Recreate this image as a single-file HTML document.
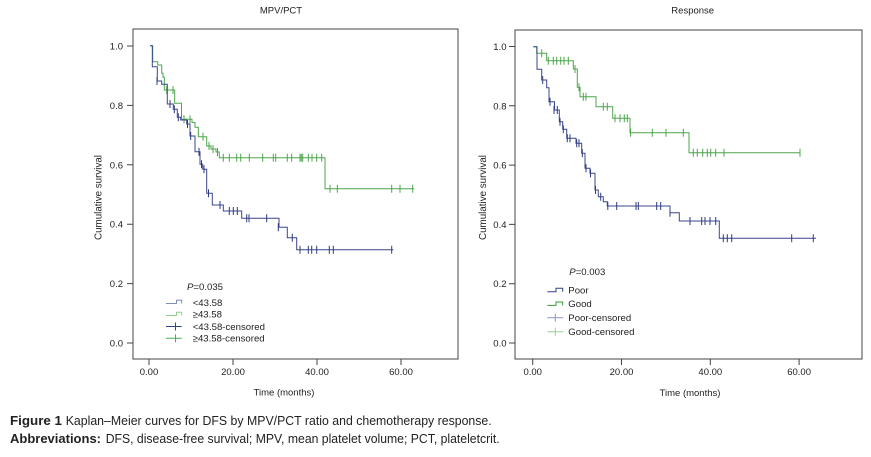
<!DOCTYPE html>
<html>
<head>
<meta charset="utf-8">
<style>
html,body{margin:0;padding:0;background:#fff;}
svg{display:block;}
text{font-family:"Liberation Sans",Arial,sans-serif;fill:#222;}
</style>
</head>
<body>
<svg width="871" height="457" viewBox="0 0 871 457" xmlns="http://www.w3.org/2000/svg">
<rect x="0" y="0" width="871" height="457" fill="#fff"/>

<!-- ============ LEFT CHART ============ -->
<text x="281" y="13.5" font-size="9.5" text-anchor="middle">MPV/PCT</text>
<rect x="133" y="29" width="325" height="330" fill="none" stroke="#444" stroke-width="1"/>
<path d="M127,46H133M127,105.4H133M127,164.8H133M127,224.2H133M127,283.6H133M127,343H133" stroke="#444" stroke-width="1"/>
<g font-size="9.5" text-anchor="end">
<text x="123" y="49.5">1.0</text>
<text x="123" y="108.9">0.8</text>
<text x="123" y="168.3">0.6</text>
<text x="123" y="227.7">0.4</text>
<text x="123" y="287.1">0.2</text>
<text x="123" y="346.5">0.0</text>
</g>
<path d="M149,359V365M233,359V365M317,359V365M401,359V365" stroke="#444" stroke-width="1"/>
<g font-size="9.5" text-anchor="middle">
<text x="149" y="375">0.00</text>
<text x="233" y="375">20.00</text>
<text x="317" y="375">40.00</text>
<text x="401" y="375">60.00</text>
</g>
<text x="284" y="395.5" font-size="9.5" text-anchor="middle">Time (months)</text>
<text transform="translate(101.5,197.5) rotate(-90)" font-size="9.8" text-anchor="middle">Cumulative survival</text>

<!-- green curve left -->
<path d="M150,45.7H152.7V61.7H157.7V65H161.7V73.3H163V77.3H164.3V90H174.7V103.3H181.5V119.3H192V122.5H195V127.3H198.3V136.7H206.7V146H211V149H216V152H219.3V157.7H325V188.7H414" fill="none" stroke="#4ca64c" stroke-width="1"/>
<path d="M166.7,86v8M173,86v8M184,115.3v8M190,115.3v8M203,132.7v8M209,142v8M213,145v8M217.5,148v8M223.3,153.7v8M229.3,153.7v8M236.7,153.7v8M240.7,153.7v8M249.3,153.7v8M262.7,153.7v8M273.3,153.7v8M275.7,153.7v8M287.3,153.7v8M291.7,153.7v8M300,153.7v8M301.3,153.7v8M302.7,153.7v8M308.3,153.7v8M312,153.7v8M316.7,153.7v8M321.7,153.7v8M330,184.7v8M337.3,184.7v8M391.7,184.7v8M400,184.7v8M412.7,184.7v8" stroke="#4ca64c" stroke-width="1"/>

<!-- blue curve left -->
<path d="M150,45.7H152.3V66.7H157.3V81H161.7V84.3H167.3V104H173.3V109.3H177.3V117.3H180.7V120H186.7V124H190V136H195V151.7H200V164.3H202.7V169.3H206.7V193.3H212.3V205H223.3V211H241.7V218.3H279V227.3H287.3V237.7H296.7V249.8H393.3" fill="none" stroke="#3a478c" stroke-width="1"/>
<path d="M157,77v8M170,100v8M174.3,105.3v8M178.3,113.3v8M187.5,120v8M190.7,132v8M199,147.7v8M201.5,160.3v8M204,165.3v8M208.5,189.3v8M220,201v8M229.3,207v8M233.3,207v8M237.3,207v8M246.7,214.3v8M249,214.3v8M266.7,214.3v8M278.3,223.3v8M292.3,233.7v8M300,245.8v8M308.3,245.8v8M311.7,245.8v8M316.7,245.8v8M329.3,245.8v8M333.3,245.8v8M391.7,245.8v8" stroke="#2e3b7e" stroke-width="1"/>

<!-- legend left -->
<text x="187" y="290" font-size="9.6"><tspan font-style="italic">P</tspan>=0.035</text>
<path d="M166,303.5H176.5V300.3H181.7V303.5" fill="none" stroke="#7f8db8" stroke-width="1"/>
<path d="M166,315.5H176.5V312.3H181.7V315.5" fill="none" stroke="#8fd08f" stroke-width="1"/>
<path d="M166,326.5H181.7M175.5,322.5V330.5" fill="none" stroke="#34408a" stroke-width="1"/>
<path d="M166,338.2H181.7M175.5,334.2V342.2" fill="none" stroke="#4caf50" stroke-width="1"/>
<g font-size="9.6">
<text x="192.7" y="306">&lt;43.58</text>
<text x="192.7" y="317.5">≥43.58</text>
<text x="192.7" y="330">&lt;43.58-censored</text>
<text x="192.7" y="341.7">≥43.58-censored</text>
</g>

<!-- ============ RIGHT CHART ============ -->
<text x="692.7" y="13.5" font-size="9.5" text-anchor="middle">Response</text>
<rect x="515" y="30" width="347" height="329" fill="none" stroke="#444" stroke-width="1"/>
<path d="M509,46.5H515M509,105.8H515M509,165.1H515M509,224.4H515M509,283.7H515M509,343H515" stroke="#444" stroke-width="1"/>
<g font-size="9.5" text-anchor="end">
<text x="506.5" y="50">1.0</text>
<text x="506.5" y="109.3">0.8</text>
<text x="506.5" y="168.6">0.6</text>
<text x="506.5" y="227.9">0.4</text>
<text x="506.5" y="287.2">0.2</text>
<text x="506.5" y="346.5">0.0</text>
</g>
<path d="M532.7,359V365M621.5,359V365M710.3,359V365M799.1,359V365" stroke="#444" stroke-width="1"/>
<g font-size="9.5" text-anchor="middle">
<text x="532.7" y="375">0.00</text>
<text x="621.5" y="375">20.00</text>
<text x="710.3" y="375">40.00</text>
<text x="799.1" y="375">60.00</text>
</g>
<text x="690" y="396" font-size="9.5" text-anchor="middle">Time (months)</text>
<text transform="translate(486,197.5) rotate(-90)" font-size="9.8" text-anchor="middle">Cumulative survival</text>

<!-- green curve right -->
<path d="M533.3,46.7H536.7V53.3H546.7V60.7H573.3V69H577.3V87.3H580V96.7H596V106.7H612.7V118.3H630V132.7H689V152.7H800" fill="none" stroke="#4ca64c" stroke-width="1"/>
<path d="M541.7,49.3v8M548.3,56.7v8M553.3,56.7v8M556.7,56.7v8M560.7,56.7v8M564,56.7v8M568.3,56.7v8M575,65v8M579,83.3v8M583.3,92.7v8M586,92.7v8M603.3,102.7v8M607.3,102.7v8M615,114.3v8M620,114.3v8M624.3,114.3v8M627.3,114.3v8M630.5,128.7v8M652.3,128.7v8M666,128.7v8M683.3,128.7v8M693.3,148.7v8M697.3,148.7v8M702.7,148.7v8M707.3,148.7v8M710.7,148.7v8M715.7,148.7v8M724,148.7v8M800,148.7v8" stroke="#4ca64c" stroke-width="1"/>

<!-- blue curve right -->
<path d="M533.3,46.7H537V69.3H541.7V80H546.7V87.7H549V101.7H554.5V110H559.3V121.7H562.7V129.3H566.7V138.3H576V143.3H581.7V153.3H585V168.3H590V173.3H595V190H598.3V196.7H603.3V201.7H607.3V206H670V212.7H679.3V221H719.3V238.3H816" fill="none" stroke="#3a478c" stroke-width="1"/>
<path d="M542.7,76v8M550,97.7v8M554,106v8M557.3,106v8M560,117.7v8M563.3,125.3v8M567.3,134.3v8M570,134.3v8M576.7,139.3v8M579,139.3v8M582.3,149.3v8M586,164.3v8M590.5,169.3v8M595.5,186v8M600.7,192.7v8M607.8,202v8M616.7,202v8M636,202v8M638.3,202v8M656.7,202v8M660.7,202v8M670,208.7v8M690,217v8M701.7,217v8M705,217v8M710,217v8M715.7,217v8M723.3,234.3v8M727.3,234.3v8M731.7,234.3v8M791.7,234.3v8M813.3,234.3v8" stroke="#2e3b7e" stroke-width="1"/>

<!-- legend right -->
<text x="569.3" y="275" font-size="9.6"><tspan font-style="italic">P</tspan>=0.003</text>
<path d="M547.3,291.7H556V288.3H562.7V291.7" fill="none" stroke="#34408a" stroke-width="1"/>
<path d="M547.3,305.4H556V302H562.7V305.4" fill="none" stroke="#3a9a3a" stroke-width="1"/>
<path d="M547.3,317.7H563.3M555.3,313.7V321.7" fill="none" stroke="#8a96c8" stroke-width="1"/>
<path d="M547.3,331.7H563.3M555.3,327.7V335.7" fill="none" stroke="#9ad09a" stroke-width="1"/>
<g font-size="9.6">
<text x="568.3" y="293.5">Poor</text>
<text x="568.3" y="307.2">Good</text>
<text x="568.3" y="321.2">Poor-censored</text>
<text x="568.3" y="335.2">Good-censored</text>
</g>

<!-- ============ CAPTION ============ -->
<g font-size="12.5">
<text x="10" y="425" font-weight="bold" textLength="52" lengthAdjust="spacingAndGlyphs">Figure 1</text>
<text x="65.7" y="425" textLength="426" lengthAdjust="spacingAndGlyphs">Kaplan–Meier curves for DFS by MPV/PCT ratio and chemotherapy response.</text>
<text x="10" y="443" font-weight="bold" textLength="91" lengthAdjust="spacingAndGlyphs">Abbreviations:</text>
<text x="105.7" y="443" textLength="394" lengthAdjust="spacingAndGlyphs">DFS, disease-free survival; MPV, mean platelet volume; PCT, plateletcrit.</text>
</g>
</svg>
</body>
</html>
